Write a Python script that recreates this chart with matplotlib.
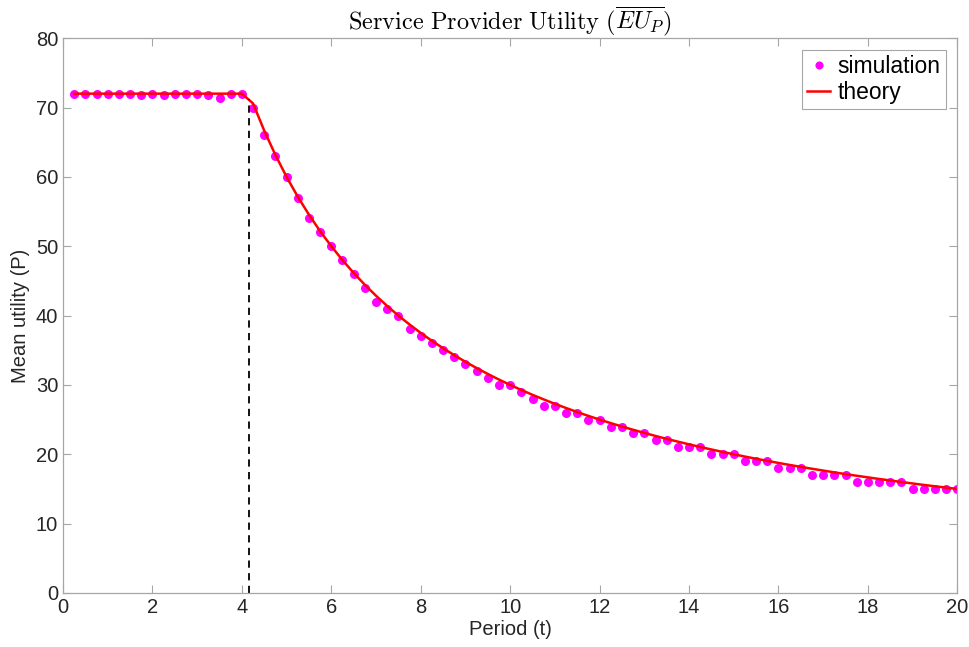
import numpy as np
import matplotlib.pyplot as plt

plt.rcParams['font.family'] = ['Liberation Sans', 'DejaVu Sans']
plt.rcParams['mathtext.fontset'] = 'cm'

# period grid (t = 0.25 ... 20)
t = [0.25, 0.5, 0.75, 1.0, 1.25, 1.5, 1.75, 2.0, 2.25, 2.5, 2.75, 3.0, 3.25, 3.5, 3.75, 4.0,
     4.25, 4.5, 4.75, 5.0, 5.25, 5.5, 5.75, 6.0, 6.25, 6.5, 6.75, 7.0, 7.25, 7.5, 7.75, 8.0,
     8.25, 8.5, 8.75, 9.0, 9.25, 9.5, 9.75, 10.0, 10.25, 10.5, 10.75, 11.0, 11.25, 11.5, 11.75, 12.0,
     12.25, 12.5, 12.75, 13.0, 13.25, 13.5, 13.75, 14.0, 14.25, 14.5, 14.75, 15.0, 15.25, 15.5, 15.75, 16.0,
     16.25, 16.5, 16.75, 17.0, 17.25, 17.5, 17.75, 18.0, 18.25, 18.5, 18.75, 19.0, 19.25, 19.5, 19.75, 20.0]

simulation = [72, 72, 72, 72, 72, 72, 71.75, 72, 71.75, 72, 72, 72, 71.75, 71.4, 72, 72,
              70, 66, 63, 60, 57, 54, 52, 50, 48, 46, 44, 42, 41, 40, 38, 37,
              36, 35, 34, 33, 32, 31, 30, 30, 29, 28, 27, 27, 26, 26, 25, 25,
              24, 24, 23, 23, 22, 22, 21, 21, 21, 20, 20, 20, 19, 19, 19, 18,
              18, 18, 17, 17, 17, 17, 16, 16, 16, 16, 16, 15, 15, 15, 15, 15]

theory = [72, 72, 72, 72, 72, 72, 72, 72, 72, 72, 72, 72, 72, 72, 72, 72,
          70.59, 66.67, 63.16, 60.0, 57.14, 54.55, 52.17, 50.0, 48.0, 46.15, 44.44, 42.86, 41.38, 40.0, 38.71, 37.5,
          36.36, 35.29, 34.29, 33.33, 32.43, 31.58, 30.77, 30.0, 29.27, 28.57, 27.91, 27.27, 26.67, 26.09, 25.53, 25.0,
          24.49, 24.0, 23.53, 23.08, 22.64, 22.22, 21.82, 21.43, 21.05, 20.69, 20.34, 20.0, 19.67, 19.35, 19.05, 18.75,
          18.46, 18.18, 17.91, 17.65, 17.39, 17.14, 16.9, 16.67, 16.44, 16.22, 16.0, 15.79, 15.58, 15.38, 15.19, 15.0]

t_switch = 4.17
u_switch = 71.2

fig = plt.figure(figsize=(9.69, 6.47), dpi=100)
ax = fig.add_axes([0.065, 0.0835, 0.923, 0.8575])

ax.plot(t, simulation, 'o', color='magenta', markersize=6.5, markeredgewidth=0, label='simulation')
ax.plot(t, theory, '-', color='red', linewidth=1.8, label='theory')
ax.vlines(t_switch, 0, u_switch, colors='black', linestyles=(0, (4, 3)), linewidth=1.3)

ax.set_xlim(0, 20)
ax.set_ylim(0, 80)
ax.set_xticks(np.arange(0, 21, 2))
ax.set_yticks(np.arange(0, 81, 10))

gray = '#262626'
for s in ax.spines.values():
    s.set_color('#a6a6a6')
    s.set_linewidth(0.9)
ax.tick_params(direction='in', top=True, right=True, length=6, width=0.8,
               color='#a6a6a6', labelcolor=gray, labelsize=14.5)

ax.set_xlabel('Period (t)', fontsize=14.5, color=gray, labelpad=2)
ax.set_ylabel('Mean utility (P)', fontsize=14.5, color=gray, labelpad=4)
ax.set_title(r'$\mathrm{Service\ Provider\ Utility}\ (\overline{EU_P})$', fontsize=17.5, pad=6)

leg = ax.legend(loc='upper right', fontsize=16.5, fancybox=False, framealpha=1,
                edgecolor='#a6a6a6', handlelength=1.0, handletextpad=0.3,
                borderpad=0.25, labelspacing=0.1, borderaxespad=0.5, markerscale=0.9)
leg.get_frame().set_linewidth(0.8)

fig.savefig('out.png', dpi=100)
